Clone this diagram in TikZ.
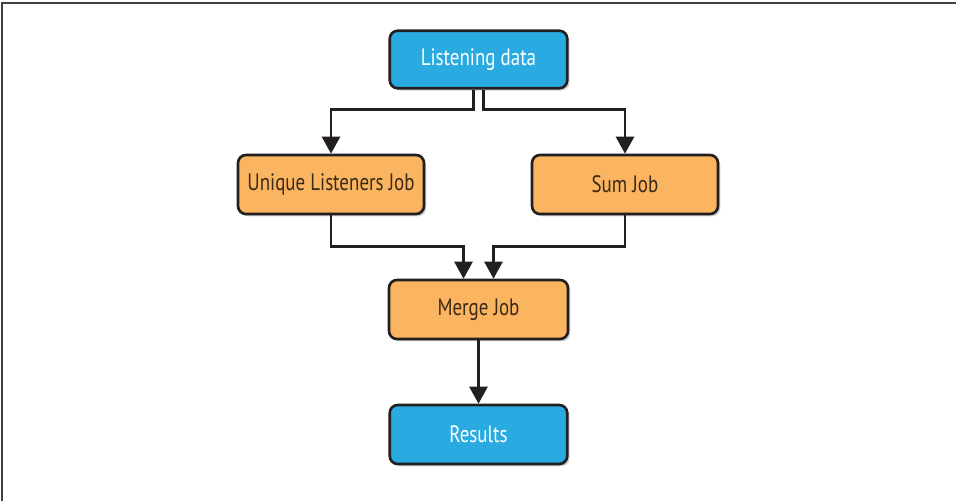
\documentclass[tikz,border=0pt]{standalone}
\usepackage{fontspec}
\usetikzlibrary{arrows.meta,shadows}
\newfontfamily\boxfont[FakeStretch=0.8]{PT Sans}
\definecolor{datablue}{HTML}{29ABE2}
\definecolor{joborange}{HTML}{FBB45F}
\definecolor{lineblack}{HTML}{231F20}
\definecolor{jobtext}{HTML}{3A2A18}

\begin{document}
\begin{tikzpicture}[x=0.02cm,y=-0.02cm,>={Triangle[length=3.4mm,width=3.6mm]},
  line width=1.5pt,
  box/.style={draw=lineblack,line width=1.5pt,rounded corners=4.5pt,
    minimum width=3.55cm,minimum height=1.15cm,font=\boxfont\fontsize{13.5}{15}\selectfont,
    drop shadow={shadow xshift=1.3pt,shadow yshift=-1.3pt,opacity=0.35}},
  databox/.style={box,fill=datablue,text=white},
  jobbox/.style={box,fill=joborange,text=jobtext,minimum width=3.72cm,minimum height=1.18cm}]
\useasboundingbox (0,0) rectangle (956,501);
% frame
\draw[black!75,line width=1.3pt] (956,3) -- (2,3) -- (2,501);
% nodes
\node[databox] (ld) at (478.5,59.5) {Listening data};
\node[jobbox] (ulj) at (331,184.5) {Unique Listeners Job};
\node[jobbox] (sj) at (625,184.5) {Sum Job};
\node[jobbox,minimum width=3.58cm] (mj) at (478.5,309.5) {Merge Job};
\node[databox,minimum height=1.18cm] (res) at (478.5,434.5) {Results};
% connectors
\draw[->,lineblack] ([xshift=-0.1cm]ld.south) -- ++(0,20) -| (ulj.north);
\draw[->,lineblack] ([xshift=0.1cm]ld.south) -- ++(0,20) -| (sj.north);
\draw[->,lineblack] (ulj.south) -- ++(0,31) -| ([xshift=-0.3cm]mj.north);
\draw[->,lineblack] (sj.south) -- ++(0,31) -| ([xshift=0.3cm]mj.north);
\draw[->,lineblack] (mj.south) -- (res.north);
\end{tikzpicture}
\end{document}
